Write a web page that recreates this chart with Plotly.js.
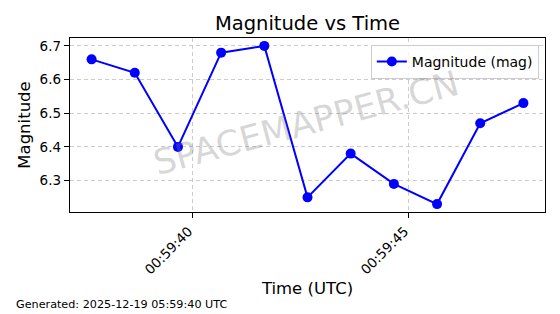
<!DOCTYPE html>
<html>
<head>
<meta charset="utf-8">
<script src="https://cdn.plot.ly/plotly-3.0.1.min.js"></script>
<style>html,body{margin:0;padding:0;background:#fff;}#chart{width:560px;height:314px;}</style>
</head>
<body>
<div id="chart"></div>
<script>
const times = [
  '2025-12-19 00:59:37.66', '2025-12-19 00:59:38.66', '2025-12-19 00:59:39.66',
  '2025-12-19 00:59:40.66', '2025-12-19 00:59:41.66', '2025-12-19 00:59:42.66',
  '2025-12-19 00:59:43.66', '2025-12-19 00:59:44.66', '2025-12-19 00:59:45.66',
  '2025-12-19 00:59:46.66', '2025-12-19 00:59:47.66'
];
const magnitudes = [6.66, 6.62, 6.40, 6.68, 6.70, 6.25, 6.38, 6.29, 6.23, 6.47, 6.53];
const seriesName = 'Magnitude (mag)';
const titleText = 'Magnitude vs Time';
const xTitle = 'Time (UTC)';
const yTitle = 'Magnitude';
const footerText = 'Generated: 2025-12-19 05:59:40 UTC';
const watermark = 'SPACEMAPPER.CN';

const FONT = 'DejaVu Sans, sans-serif';

const trace = {
  x: times, y: magnitudes, name: seriesName,
  type: 'scatter', mode: 'lines+markers',
  line: {color: '#0000ff', width: 2},
  marker: {color: '#0000ff', size: 10}
};

const layout = {
  width: 560, height: 314,
  margin: {l: 70, r: 15, t: 38, b: 102},
  paper_bgcolor: '#fff', plot_bgcolor: '#fff',
  font: {family: FONT, color: '#000', size: 13},
  title: {text: titleText, font: {family: FONT, size: 19.5, color: '#000'},
          x: 0.5, xanchor: 'center', xref: 'paper', yref: 'container', y: 0.927, yanchor: 'middle'},
  showlegend: true,
  legend: {x: 0.987, xanchor: 'right', y: 0.96, yanchor: 'top',
           bgcolor: 'rgba(255,255,255,0.8)', bordercolor: '#cccccc', borderwidth: 1,
           font: {family: FONT, size: 14, color: '#000'}, tracegroupgap: 0},
  xaxis: {
    type: 'date',
    range: ['2025-12-19 00:59:37.16', '2025-12-19 00:59:48.16'],
    tick0: '2025-12-19 00:59:40', dtick: 5000, tickformat: '%H:%M:%S',
    tickangle: -45, ticklabelshift: -4,
    ticks: 'outside', ticklen: 5, tickwidth: 1, tickcolor: '#000',
    tickfont: {family: FONT, size: 13.5, color: '#000'},
    showline: true, linecolor: '#000', linewidth: 1.2, mirror: true,
    showgrid: true, gridcolor: '#cccccc', griddash: '4px,3px', gridwidth: 1,
    zeroline: false,
    title: {text: xTitle, font: {family: FONT, size: 16.5, color: '#000'}, standoff: 6},
    automargin: false
  },
  yaxis: {
    range: [6.2065, 6.7235],
    tickvals: [6.3, 6.4, 6.5, 6.6, 6.7],
    ticktext: ['6.3', '6.4', '6.5', '6.6', '6.7'],
    ticks: 'outside', ticklen: 5, tickwidth: 1, tickcolor: '#000',
    tickfont: {family: FONT, size: 13.5, color: '#000'},
    showline: true, linecolor: '#000', linewidth: 1.2, mirror: true,
    showgrid: true, gridcolor: '#cccccc', griddash: '4px,3px', gridwidth: 1,
    zeroline: false,
    title: {text: yTitle, font: {family: FONT, size: 16.5, color: '#000'}, standoff: 4},
    automargin: false
  },
  annotations: [
    {text: watermark, xref: 'paper', yref: 'paper', x: 0.497, y: 0.51,
     xanchor: 'center', yanchor: 'middle', showarrow: false, textangle: -15,
     font: {family: FONT, size: 35, color: 'rgba(128,128,128,0.32)'}},
    {text: footerText, xref: 'paper', yref: 'paper', x: -0.118, y: -0.534,
     xanchor: 'left', yanchor: 'middle', showarrow: false,
     font: {family: FONT, size: 11.2, color: '#000'}}
  ]
};

Plotly.newPlot('chart', [trace], layout, {displayModeBar: false, staticPlot: true});
</script>
</body>
</html>
